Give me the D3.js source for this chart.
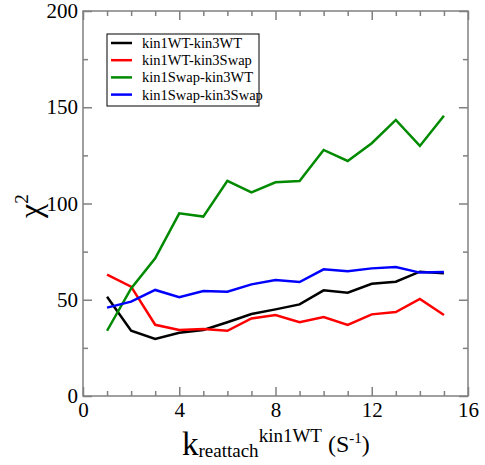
<!DOCTYPE html>
<html>
<head>
<meta charset="utf-8">
<script src="https://cdn.jsdelivr.net/npm/d3@7/dist/d3.min.js"></script>
<style>
  body { margin: 0; background: #fff; }
</style>
</head>
<body>
<div id="chart"></div>
<script>
const width = 485;
const height = 465;
const serif = "'Liberation Serif', 'Times New Roman', 'DejaVu Serif', serif";

// rates 1..15 (s^-1)
const kValues = [1, 2, 3, 4, 5, 6, 7, 8, 9, 10, 11, 12, 13, 14, 15];
const wtWt     = [51.6, 33.9, 29.6, 32.9, 34.3, 38.3, 42.6, 45.0, 47.6, 54.9, 53.7, 58.3, 59.4, 64.6, 63.7];
const wtSwap   = [63.0, 56.8, 37.0, 34.3, 34.8, 33.9, 40.3, 42.1, 38.3, 41.0, 36.9, 42.4, 43.6, 50.4, 42.1];
const swapWt   = [33.9, 55.9, 71.5, 94.9, 93.2, 111.8, 105.8, 111.0, 111.7, 127.8, 122.1, 131.3, 143.4, 129.9, 145.6];
const swapSwap = [45.9, 49.0, 55.1, 51.3, 54.5, 54.2, 58.0, 60.3, 59.2, 65.8, 64.8, 66.3, 67.0, 64.1, 64.4];

const seriesNames = ["kin1WT-kin3WT", "kin1WT-kin3Swap", "kin1Swap-kin3WT", "kin1Swap-kin3Swap"];
const seriesColors = ["#000000", "#ff0000", "#008a00", "#0000ff"];
const seriesValues = [wtWt, wtSwap, swapWt, swapSwap];

const xTicks = [0, 4, 8, 12, 16];
const yTicks = [0, 50, 100, 150, 200];

const margin = {left: 83, right: 17, top: 11, bottom: 69};

const svg = d3.select("#chart").append("svg")
    .attr("width", width)
    .attr("height", height)
    .attr("font-family", serif);

const x = d3.scaleLinear()
    .domain([0, 16])
    .range([margin.left, width - margin.right]);

const y = d3.scaleLinear()
    .domain([0, 200])
    .range([height - margin.bottom, margin.top]);

const axisColor = "#808080";

// frame
svg.append("rect")
    .attr("x", x(0))
    .attr("y", y(200))
    .attr("width", x(16) - x(0))
    .attr("height", y(0) - y(200))
    .attr("fill", "none")
    .attr("stroke", axisColor)
    .attr("stroke-width", 1.5);

// ticks drawn inward on all four sides
function drawTicks(axis, transform) {
    const g = svg.append("g")
        .attr("transform", transform)
        .call(axis)
        .attr("font-family", serif);
    g.select(".domain").remove();
    g.selectAll("line").attr("stroke", axisColor).attr("stroke-width", 1.5);
    return g;
}

const xMinor = d3.range(0, 17, 1).filter(d => d % 4 !== 0);
const yMinor = d3.range(0, 201, 25).filter(d => d % 50 !== 0);

// bottom
const gx = drawTicks(d3.axisBottom(x).tickValues(xTicks).tickSize(-9).tickPadding(6),
    `translate(0,${y(0)})`);
gx.selectAll("text")
    .attr("font-size", 21)
    .attr("fill", "#000");
drawTicks(d3.axisBottom(x).tickValues(xMinor).tickSize(-5).tickFormat(""), `translate(0,${y(0)})`);

// top
drawTicks(d3.axisTop(x).tickValues(xTicks).tickSize(-9).tickFormat(""), `translate(0,${y(200)})`);
drawTicks(d3.axisTop(x).tickValues(xMinor).tickSize(-5).tickFormat(""), `translate(0,${y(200)})`);

// left
const gy = drawTicks(d3.axisLeft(y).tickValues(yTicks).tickSize(-9).tickPadding(5),
    `translate(${x(0)},0)`);
gy.selectAll("text")
    .attr("font-size", 21)
    .attr("fill", "#000");
drawTicks(d3.axisLeft(y).tickValues(yMinor).tickSize(-5).tickFormat(""), `translate(${x(0)},0)`);

// right
drawTicks(d3.axisRight(y).tickValues(yTicks).tickSize(-9).tickFormat(""), `translate(${x(16)},0)`);
drawTicks(d3.axisRight(y).tickValues(yMinor).tickSize(-5).tickFormat(""), `translate(${x(16)},0)`);

// lines
const line = d3.line()
    .x((d, i) => x(kValues[i]))
    .y(d => y(d));

seriesValues.forEach((vals, i) => {
    svg.append("path")
        .datum(vals)
        .attr("fill", "none")
        .attr("stroke", seriesColors[i])
        .attr("stroke-width", 2.5)
        .attr("d", line);
});

// legend
const legend = svg.append("g").attr("transform", "translate(107,34)");
legend.append("rect")
    .attr("width", 152)
    .attr("height", 72)
    .attr("fill", "#fff")
    .attr("stroke", "#000")
    .attr("stroke-width", 1);

seriesNames.forEach((name, i) => {
    const ly = 9 + i * 17.2;
    legend.append("line")
        .attr("x1", 4).attr("x2", 25)
        .attr("y1", ly).attr("y2", ly)
        .attr("stroke", seriesColors[i])
        .attr("stroke-width", 2.5);
    legend.append("text")
        .attr("x", 35)
        .attr("y", ly + 5)
        .attr("font-size", 14.5)
        .text(name);
});

// y label
const yl = svg.append("text")
    .attr("transform", "translate(41,218) rotate(-90)")
    .attr("font-size", 32);
yl.append("tspan").text("χ");
yl.append("tspan").attr("font-size", 19).attr("dy", -13).text("2");

// x label
const xl = svg.append("text")
    .attr("x", 182)
    .attr("y", 455)
    .attr("font-size", 33);
xl.append("tspan").text("k");
xl.append("tspan").attr("font-size", 19).attr("dy", 2).text("reattach");
xl.append("tspan").attr("font-size", 19).attr("dy", -15).text("kin1WT");
xl.append("tspan").attr("font-size", 24).attr("dx", 6).attr("dy", 10).text("(S");
xl.append("tspan").attr("font-size", 15).attr("dy", -9).text("-1");
xl.append("tspan").attr("font-size", 24).attr("dy", 9).text(")");
</script>
</body>
</html>
